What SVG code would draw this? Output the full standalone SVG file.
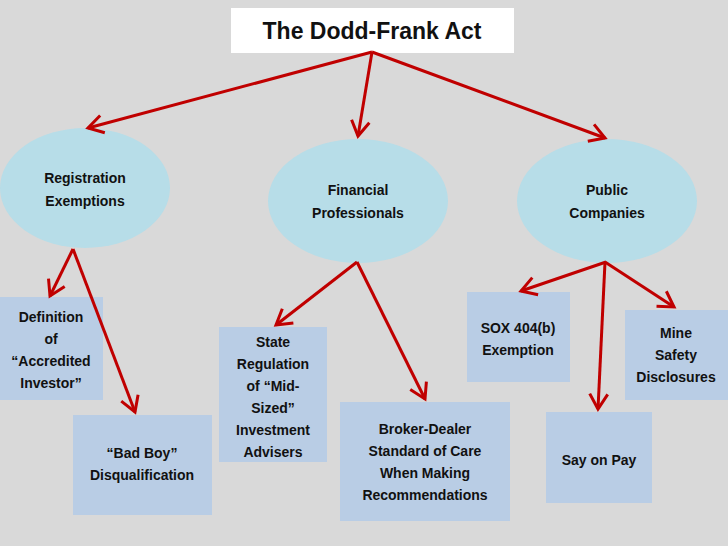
<svg xmlns="http://www.w3.org/2000/svg" width="728" height="546" viewBox="0 0 728 546">
<style>
text{font-family:"Liberation Sans",Arial,sans-serif;font-weight:bold;font-size:14px;fill:#111;text-anchor:middle}
.e{fill:#b7dde8}
.b{fill:#b9cde5}
.c line{stroke:#c00000;stroke-width:3;marker-end:url(#a)}
</style>
<defs><marker id="a" markerWidth="8" markerHeight="8" refX="6" refY="4" orient="auto" markerUnits="strokeWidth"><path d="M1,1 L6,4 L1,7" fill="none" stroke="#c00000" stroke-width="1"/></marker></defs>
<rect width="728" height="546" fill="#d9d9d9"/>
<g id="title"><rect x="231" y="8" width="283" height="45" fill="#fff"/><text x="372" y="39" style="font-size:23px">The Dodd-Frank Act</text></g>
<g id="reg"><ellipse class="e" cx="85" cy="188" rx="85" ry="60"/><text x="85" y="183">Registration</text><text x="85" y="206">Exemptions</text></g>
<g id="fin"><ellipse class="e" cx="358" cy="201" rx="90" ry="62"/><text x="358" y="195">Financial</text><text x="358" y="218">Professionals</text></g>
<g id="pub"><ellipse class="e" cx="607" cy="201" rx="90" ry="62"/><text x="607" y="195">Public</text><text x="607" y="218">Companies</text></g>
<g id="def"><rect class="b" x="0" y="297" width="103" height="103"/><text x="51" y="322">Definition</text><text x="51" y="344">of</text><text x="51" y="366">“Accredited</text><text x="51" y="388">Investor”</text></g>
<g id="bad"><rect class="b" x="73" y="415" width="139" height="100"/><text x="142" y="458">“Bad Boy”</text><text x="142" y="480">Disqualification</text></g>
<g id="state"><rect class="b" x="219" y="327" width="108" height="135"/><text x="273" y="347">State</text><text x="273" y="369">Regulation</text><text x="273" y="391">of “Mid-</text><text x="273" y="413">Sized”</text><text x="273" y="435">Investment</text><text x="273" y="457">Advisers</text></g>
<g id="broker"><rect class="b" x="340" y="402" width="170" height="119"/><text x="425" y="434">Broker-Dealer</text><text x="425" y="456">Standard of Care</text><text x="425" y="478">When Making</text><text x="425" y="500">Recommendations</text></g>
<g id="sox"><rect class="b" x="467" y="292" width="103" height="90"/><text x="518" y="333">SOX 404(b)</text><text x="518" y="355">Exemption</text></g>
<g id="say"><rect class="b" x="546" y="412" width="106" height="91"/><text x="599" y="465">Say on Pay</text></g>
<g id="mine"><rect class="b" x="625" y="310" width="103" height="90"/><text x="676" y="338">Mine</text><text x="676" y="360">Safety</text><text x="676" y="382">Disclosures</text></g>
<g class="c" id="connectors">
<line x1="372" y1="52" x2="88" y2="128"/>
<line x1="372" y1="52" x2="358" y2="136"/>
<line x1="372" y1="52" x2="605" y2="138"/>
<line x1="73" y1="249" x2="50" y2="296"/>
<line x1="73" y1="249" x2="135" y2="412"/>
<line x1="357" y1="262" x2="276" y2="325"/>
<line x1="357" y1="262" x2="425" y2="399"/>
<line x1="606" y1="262" x2="521" y2="291"/>
<line x1="605" y1="262" x2="598" y2="409"/>
<line x1="605" y1="262" x2="674" y2="307"/>
</g>
</svg>
